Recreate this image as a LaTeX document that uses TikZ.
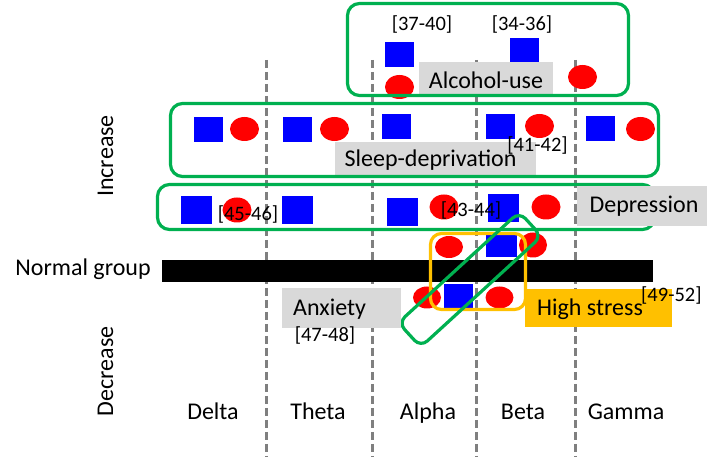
\documentclass[tikz,border=0pt]{standalone}
\usepackage{fontspec}
\setmainfont{Carlito}
\usetikzlibrary{shapes.geometric}
\definecolor{grn}{HTML}{00B050}
\definecolor{org}{HTML}{FFC000}
\definecolor{lgray}{HTML}{D9D9D9}
\definecolor{dgray}{HTML}{7F7F7F}
\begin{document}
\begin{tikzpicture}[x=1pt,y=-1pt,
  sqA/.style={fill=blue, inner sep=0, minimum width=29pt, minimum height=25pt},
  sqB/.style={fill=blue, inner sep=0, minimum width=31pt, minimum height=28pt},
  sqC/.style={fill=blue, inner sep=0, minimum width=30pt, minimum height=23pt},
  dotA/.style={ellipse, fill=red, inner sep=0, minimum width=29pt, minimum height=24pt},
  dotB/.style={ellipse, fill=red, inner sep=0, minimum width=29pt, minimum height=25pt},
  dotC/.style={ellipse, fill=red, inner sep=0, minimum width=28pt, minimum height=22pt},
  grpbox/.style={draw=grn, line width=3.2pt, rounded corners=12pt},
  stressbox/.style={draw=org, line width=3.2pt, rounded corners=11pt},
  graybox/.style={fill=lgray, inner sep=0},
  orgbox/.style={fill=org, inner sep=0},
  txt/.style={inner sep=0, font=\fontsize{24}{28}\selectfont},
  reftxt/.style={inner sep=0, font=\fontsize{20.5}{24}\selectfont},
  bandline/.style={draw=dgray, line width=3pt, dash pattern=on 8.5pt off 3.5pt}
]
\useasboundingbox (0,0) rectangle (716,457);
% band separators
\foreach \x/\n in {266/a,372/b,476/c,575/d}{
  \coordinate (top\n) at (\x,60);
  \coordinate (bot\n) at (\x,457);
  \draw[bandline] (top\n) -- (bot\n);
}
% normal group bar
\node[fill=black, inner sep=0, minimum width=491pt, minimum height=22pt] (bar) at (407.5,271) {};
% row 1 (alcohol)
\node[sqA] (s1a) at (399.5,54.5) {};
\node[sqA] (s1b) at (524.5,51) {};
\node[dotA] (c1a) at (399.5,87) {};
\node[dotA] (c1b) at (582.5,77) {};
% row 2 (sleep)
\node[sqA] (s2a) at (208,129.5) {};
\node[sqA] (s2b) at (297.5,129.5) {};
\node[sqA] (s2c) at (396.5,127) {};
\node[sqA] (s2d) at (500,126.5) {};
\node[sqA] (s2e) at (600.5,129) {};
\node[dotA] (c2a) at (244.5,129) {};
\node[dotA] (c2b) at (334.5,129) {};
\node[dotA] (c2d) at (539.5,126) {};
\node[dotA] (c2e) at (640.5,129) {};
% row 3 (depression)
\node[sqB] (s3a) at (196,210) {};
\node[sqB] (s3b) at (297.5,210) {};
\node[sqB] (s3c) at (402,212) {};
\node[sqB] (s3d) at (503,208.5) {};
\node[dotB] (c3a) at (237,210) {};
\node[dotB] (c3c) at (444,207) {};
\node[dotB] (c3d) at (546,207) {};
% row 4 (above normal)
\node[dotC] (c4a) at (449,247) {};
\node[sqC, minimum width=31pt, minimum height=22pt] (s4a) at (501.5,246) {};
\node[dotB, minimum width=28pt] (c4b) at (533,245) {};
% row 5 (below normal)
\node[dotC] (c5a) at (427,297.5) {};
\node[sqC, minimum width=29pt, minimum height=24pt] (s5a) at (458,296) {};
\node[dotC] (c5b) at (499.5,297.5) {};
% labels under group boxes
\node[graybox, minimum width=134pt, minimum height=33pt] (alcbox) at (486,78.5) {};
\node[graybox, minimum width=201pt, minimum height=34pt] (slpbox) at (435.5,159) {};
% group boxes
\draw[grpbox] (347.5,3.5) rectangle (628.5,95.5);
\draw[grpbox] (170.5,103.5) rectangle (658.5,176.5);
\draw[grpbox] (157.5,184.5) rectangle (654.5,229.5);
\draw[stressbox] (430.5,233.5) rectangle (525.5,309.5);
\node[grpbox, rounded corners=9pt, minimum width=164pt, minimum height=33pt, rotate=42.5] (anxgrp) at (470,279.5) {};
% labels over group boxes
\node[graybox, minimum width=130pt, minimum height=40pt] (depbox) at (642,206) {};
\node[graybox, minimum width=119pt, minimum height=40pt] (anxbox) at (341.5,308) {};
\node[orgbox, minimum width=147pt, minimum height=38pt] (strbox) at (598.5,308) {};
% texts
\node[txt, anchor=base] (alc) at (486,89) {Alcohol-use};
\node[txt, anchor=base] (slp) at (430.5,167) {Sleep-deprivation};
\node[txt, anchor=base] (dep) at (644,213) {Depression};
\node[txt, anchor=base west] (anx) at (293,316) {Anxiety};
\node[txt, anchor=base west] (hst) at (537,316) {High stress};
\node[reftxt, anchor=base west] (r4952) at (641,302) {[49-52]};
\node[reftxt, anchor=base] (r3740) at (422,31) {[37-40]};
\node[reftxt, anchor=base] (r3436) at (522,31) {[34-36]};
\node[reftxt, anchor=base] (r4142) at (537.5,152) {[41-42]};
\node[reftxt, anchor=base] (r4546) at (248,221) {[45-46]};
\node[reftxt, anchor=base] (r4344) at (471,217) {[43-44]};
\node[reftxt, anchor=base] (r4748) at (325,342) {[47-48]};
% axis texts
\node[txt, anchor=base] (normal) at (83,276) {Normal group};
\node[txt, anchor=base, rotate=90] (inc) at (113,156) {Increase};
\node[txt, anchor=base, rotate=90] (dec) at (113,371.5) {Decrease};
\node[txt, anchor=base] (delta) at (213,420) {Delta};
\node[txt, anchor=base] (theta) at (318,420) {Theta};
\node[txt, anchor=base] (alpha) at (428,420) {Alpha};
\node[txt, anchor=base] (beta) at (523,420) {Beta};
\node[txt, anchor=base] (gamma) at (626,420) {Gamma};
\end{tikzpicture}
\end{document}
